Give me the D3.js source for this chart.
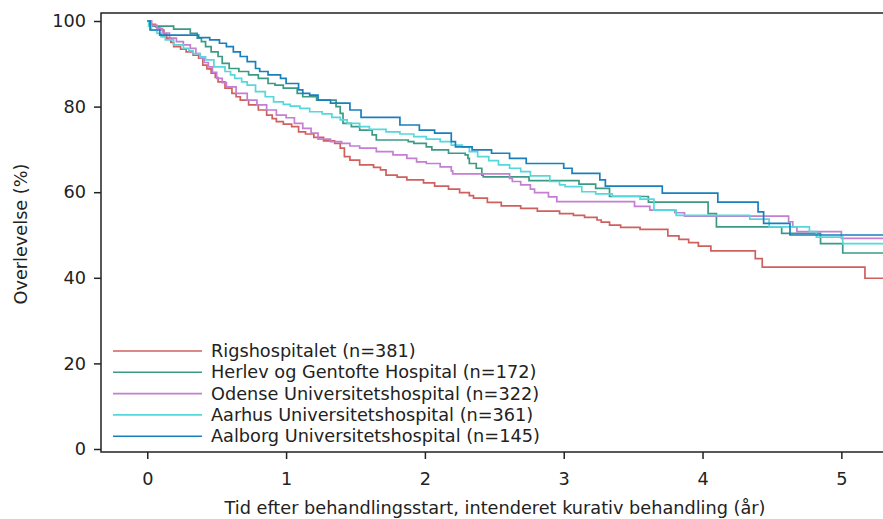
<!DOCTYPE html>
<html><head><meta charset="utf-8">
<script src="https://cdn.jsdelivr.net/npm/d3@7"></script>
<style>body{margin:0;background:#fff}svg{display:block}text{font-family:"DejaVu Sans",sans-serif;fill:#222}</style>
</head><body><svg id="c" width="883" height="519"></svg>
<script>
const seriesNames = ["Rigshospitalet (n=381)","Herlev og Gentofte Hospital (n=172)","Odense Universitetshospital (n=322)","Aarhus Universitetshospital (n=361)","Aalborg Universitetshospital (n=145)"];
const seriesColors = ["#d0605e","#3c9a84","#c47ed2","#55d8dc","#1a7fbd"];
const xTicks = [0,1,2,3,4,5];
const yTicks = [0,20,40,60,80,100];
const xLabel = "Tid efter behandlingsstart, intenderet kurativ behandling (år)";
const yLabel = "Overlevelse (%)";
const tEnd = 5.3;
// step-after points [time (years), survival (%)]
const rigs = [[0,100],[0.03,99.2],[0.06,98.6],[0.09,97.9],[0.12,97],[0.14,96],[0.17,95],[0.19,94],[0.24,93.4],[0.28,92.8],[0.33,92],[0.37,91.3],[0.40,89.7],[0.43,88.8],[0.46,87.8],[0.49,86.8],[0.51,85.8],[0.56,84.3],[0.61,83.1],[0.64,82.3],[0.67,81.5],[0.73,80.4],[0.80,79.2],[0.86,78],[0.90,77.2],[0.93,76.5],[0.98,75.9],[1.04,75.3],[1.09,74.1],[1.14,73.6],[1.20,72.8],[1.27,72.0],[1.35,71.4],[1.39,70.3],[1.42,68.3],[1.46,67.5],[1.53,66.4],[1.63,65.8],[1.68,65.2],[1.72,64],[1.80,63.5],[1.87,62.9],[1.99,62.2],[2.07,61.4],[2.17,60.7],[2.25,59.9],[2.32,59.2],[2.35,58.6],[2.45,57.6],[2.55,56.8],[2.69,56.2],[2.81,55.6],[2.97,55.0],[3.07,54.6],[3.15,54.1],[3.24,53.5],[3.27,53.0],[3.33,52.3],[3.41,51.8],[3.55,51.3],[3.75,49.8],[3.83,49.0],[3.90,48.2],[3.97,47.4],[4.06,46.3],[4.38,44.5],[4.43,42.5],[5.17,39.9]];
const herlev = [[0,100],[0.02,98.8],[0.19,98.1],[0.31,97.1],[0.36,96.0],[0.39,95.2],[0.42,94.0],[0.46,92.8],[0.51,91.7],[0.54,90.1],[0.59,88.9],[0.66,88.2],[0.73,87.4],[0.80,86.6],[0.87,85.4],[0.92,85],[0.98,84.3],[1.08,83.1],[1.12,82.3],[1.22,81.5],[1.36,80.0],[1.39,78.4],[1.41,76.1],[1.47,75.3],[1.53,74.5],[1.62,73.4],[1.65,72.2],[1.88,71.8],[1.92,71.4],[2.01,70.6],[2.05,69.9],[2.17,69.1],[2.29,68.7],[2.31,67.9],[2.32,66.7],[2.37,65.6],[2.41,64.0],[2.42,63.6],[2.75,62.7],[3.11,61.9],[3.23,60.9],[3.33,59.0],[3.61,57.7],[4.04,55.0],[4.10,51.9],[4.57,50.4],[4.85,48.0],[5.01,45.8]];
const odense = [[0,100],[0.03,99],[0.07,98.3],[0.11,97.2],[0.16,96],[0.21,95.2],[0.26,94.4],[0.31,93.6],[0.35,92.4],[0.38,91.3],[0.41,90.3],[0.44,89.3],[0.47,88],[0.50,86.6],[0.54,85.6],[0.57,84.6],[0.64,83.1],[0.72,81.5],[0.79,80.4],[0.86,79.2],[0.93,78],[1.0,77.4],[1.06,76.1],[1.12,74.9],[1.18,73.8],[1.23,72.4],[1.32,71.8],[1.40,71.4],[1.46,70.8],[1.53,70.3],[1.65,69.5],[1.77,68.7],[1.87,67.9],[1.94,67.1],[2.01,66.7],[2.11,65.9],[2.19,65.0],[2.20,64.3],[2.61,63.2],[2.63,62.5],[2.69,61.7],[2.76,60.7],[2.79,59.9],[2.89,58.9],[2.95,57.8],[3.51,56.7],[3.62,55.8],[3.80,55.2],[3.87,54.4],[4.62,53.1],[4.65,51.9],[4.68,50.8],[5.0,49.2]];
const aarhus = [[0,100],[0.01,98.8],[0.03,97.9],[0.07,97.1],[0.10,96.3],[0.13,95.6],[0.19,94.4],[0.26,93.6],[0.30,93],[0.33,92.4],[0.38,91.6],[0.42,90.9],[0.48,89.3],[0.56,88.2],[0.60,87.4],[0.63,86.6],[0.68,85.8],[0.72,85],[0.78,83.5],[0.85,82.3],[0.91,81.1],[0.98,80.5],[1.03,80.1],[1.10,79.6],[1.17,78.8],[1.26,78.3],[1.33,77.5],[1.39,76.9],[1.44,76.1],[1.53,75.3],[1.60,74.7],[1.72,74.1],[1.82,73.6],[1.92,73.0],[2.01,72.4],[2.11,71.8],[2.19,71.0],[2.27,70.5],[2.32,69.5],[2.38,68.3],[2.46,67.4],[2.53,66.4],[2.61,65.6],[2.69,64.8],[2.76,63.8],[2.90,62.5],[2.97,61.7],[3.01,61.3],[3.13,60.1],[3.23,59.6],[3.35,59.1],[3.55,58.4],[3.65,55.8],[3.81,54.6],[4.34,53.7],[4.48,51.9],[4.77,50.8],[4.82,49.5],[5.01,48.0]];
const aalborg = [[0,100],[0.02,97.9],[0.09,96.7],[0.37,96.1],[0.45,95.6],[0.52,94.8],[0.57,94.0],[0.62,92.8],[0.67,91.7],[0.72,90.5],[0.78,88.9],[0.81,88.2],[0.87,87.4],[0.96,86.6],[1.0,85.4],[1.09,83.9],[1.12,83.1],[1.17,82.7],[1.23,81.5],[1.32,80.8],[1.46,79.2],[1.54,77.5],[1.82,75.7],[1.96,74.5],[2.07,73.8],[2.19,71.8],[2.22,70.6],[2.34,69.9],[2.48,69.1],[2.61,67.9],[2.73,66.7],[3.0,65.6],[3.06,64.4],[3.26,62.9],[3.30,61.4],[3.71,59.8],[4.11,57.7],[4.40,55.4],[4.44,52.7],[4.63,50.0]];
const seriesData = [rigs, herlev, odense, aarhus, aalborg];

const svg = d3.select("#c");
const x = d3.scaleLinear().domain([-1/3, 5.3]).range([101, 883]);
const y = d3.scaleLinear().domain([0, 100]).range([449, 21]);
const pTop = 13, pBottom = 452, pLeft = 101, pRight = 883;
const fs = 17.7;

svg.append("defs").append("clipPath").attr("id","clip").append("rect")
  .attr("x",pLeft).attr("y",pTop).attr("width",pRight-pLeft).attr("height",pBottom-pTop);

const line = d3.line().x(d=>x(d[0])).y(d=>y(d[1])).curve(d3.curveStepAfter);
const g = svg.append("g").attr("clip-path","url(#clip)");
seriesData.forEach((s,i)=>{
  const pts = s.concat([[tEnd, s[s.length-1][1]]]);
  g.append("path").attr("d", line(pts)).attr("fill","none")
   .attr("stroke", seriesColors[i]).attr("stroke-width",1.7);
});

// axes
const ax = svg.append("g").attr("transform",`translate(0,${pBottom})`)
  .call(d3.axisBottom(x).tickValues(xTicks).tickFormat(d3.format("d")).tickSize(7).tickSizeOuter(0).tickPadding(13));
const ay = svg.append("g").attr("transform",`translate(${pLeft},0)`)
  .call(d3.axisLeft(y).tickValues(yTicks).tickSize(7).tickSizeOuter(0).tickPadding(8));
[ax, ay].forEach(a=>{
  a.select(".domain").remove();
  a.selectAll("line").attr("stroke","#222").attr("stroke-width",1.5);
  a.selectAll("text").attr("font-size",fs).attr("fill","#222").style("font-family","DejaVu Sans");
});
// spines
svg.append("path").attr("d",`M${pRight},${pTop}H${pLeft}V${pBottom}H${pRight}`)
  .attr("fill","none").attr("stroke","#222").attr("stroke-width",1.5);

svg.append("text").attr("x",495).attr("y",514).attr("text-anchor","middle").attr("font-size",fs).text(xLabel);
svg.append("text").attr("transform","translate(27,234) rotate(-90)").attr("text-anchor","middle").attr("font-size",fs).text(yLabel);

// legend
const lg = svg.append("g");
seriesNames.forEach((n,i)=>{
  const yy = 351 + i*21.3;
  lg.append("line").attr("x1",113).attr("x2",202).attr("y1",yy).attr("y2",yy)
    .attr("stroke",seriesColors[i]).attr("stroke-width",1.6);
  lg.append("text").attr("x",211).attr("y",yy).attr("dy","0.35em").attr("font-size",fs).text(n);
});
</script></body></html>
